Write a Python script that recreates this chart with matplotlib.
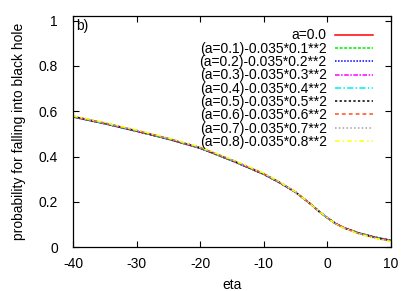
import matplotlib
matplotlib.use("Agg")
import matplotlib.pyplot as plt

plt.rcParams['font.family'] = ['Liberation Sans', 'DejaVu Sans']
plt.rcParams['axes.unicode_minus'] = False

eta = [-40, -35, -30, -25, -20, -15, -10, -7.5, -5, -2.5, -1.25, 0, 1.25, 2.5, 5, 7.5, 10]

s00 = [0.575, 0.545, 0.512, 0.477, 0.437, 0.382, 0.322, 0.285, 0.243, 0.188, 0.157, 0.130, 0.106, 0.088, 0.063, 0.045, 0.031]
s01 = [0.575, 0.545, 0.512, 0.477, 0.437, 0.382, 0.322, 0.285, 0.243, 0.188, 0.157, 0.130, 0.106, 0.088, 0.063, 0.045, 0.031]
s02 = [0.575, 0.545, 0.512, 0.477, 0.437, 0.382, 0.322, 0.285, 0.243, 0.188, 0.157, 0.130, 0.106, 0.088, 0.063, 0.045, 0.030]
s03 = [0.576, 0.546, 0.513, 0.478, 0.438, 0.383, 0.323, 0.285, 0.243, 0.188, 0.157, 0.130, 0.106, 0.088, 0.062, 0.044, 0.030]
s04 = [0.576, 0.546, 0.513, 0.478, 0.438, 0.383, 0.323, 0.286, 0.243, 0.188, 0.157, 0.130, 0.106, 0.087, 0.062, 0.044, 0.029]
s05 = [0.577, 0.547, 0.514, 0.479, 0.439, 0.384, 0.324, 0.286, 0.243, 0.188, 0.157, 0.130, 0.106, 0.087, 0.061, 0.043, 0.029]
s06 = [0.578, 0.548, 0.515, 0.480, 0.440, 0.385, 0.325, 0.287, 0.244, 0.188, 0.157, 0.130, 0.105, 0.087, 0.061, 0.042, 0.028]
s07 = [0.579, 0.549, 0.516, 0.481, 0.441, 0.386, 0.326, 0.287, 0.244, 0.188, 0.157, 0.130, 0.105, 0.086, 0.060, 0.041, 0.026]
s08 = [0.580, 0.550, 0.517, 0.482, 0.442, 0.387, 0.327, 0.288, 0.244, 0.188, 0.157, 0.130, 0.105, 0.086, 0.059, 0.040, 0.025]

series = [s00, s01, s02, s03, s04, s05, s06, s07, s08]
labels = ["a=0.0",
          "(a=0.1)-0.035*0.1**2",
          "(a=0.2)-0.035*0.2**2",
          "(a=0.3)-0.035*0.3**2",
          "(a=0.4)-0.035*0.4**2",
          "(a=0.5)-0.035*0.5**2",
          "(a=0.6)-0.035*0.6**2",
          "(a=0.7)-0.035*0.7**2",
          "(a=0.8)-0.035*0.8**2"]
colors = ["#ff0000", "#00ee00", "#0000ff", "#ff00ff", "#00eeee",
          "#000000", "#ff5020", "#a0a0a0", "#ffff00"]
dashes = [None, (2, 1), (1, 1), (3, 1, 1, 1), (4, 1.5, 1, 1.5),
          (1.5, 1.5), (2.5, 2), (1, 1.5), (3, 2, 1, 2)]

fs = 10

fig = plt.figure(figsize=(4.15, 2.91), dpi=100)
ax = fig.add_axes([0.176, 0.150, 0.766, 0.795])

for y, lab, c, d in zip(series, labels, colors, dashes):
    line, = ax.plot(eta, y, color=c, lw=1.1, label=lab)
    if d is not None:
        line.set_dashes(d)

ax.set_xlim(-40, 10)
ax.set_ylim(0, 1.02)
ax.set_xticks([-40, -30, -20, -10, 0, 10])
ax.set_xticklabels(["-40", "-30", "-20", "-10", "0", "10"])
ax.set_yticks([0, 0.2, 0.4, 0.6, 0.8, 1])
ax.set_yticklabels(["0", "0.2", "0.4", "0.6", "0.8", "1"])
ax.tick_params(direction='in', top=True, right=True, length=4, width=0.8,
               labelsize=fs)
ax.tick_params(axis='y', pad=11)
ax.tick_params(axis='x', pad=7)
for sp in ax.spines.values():
    sp.set_linewidth(0.9)

ax.set_xlabel("eta", fontsize=fs, labelpad=5)
ax.set_ylabel("probability for falling into black hole", fontsize=fs, labelpad=9)
ax.text(0.009, 0.985, "b)", transform=ax.transAxes, fontsize=fs, va='top', ha='left')

leg = ax.legend(loc='upper right', bbox_to_anchor=(0.943, 0.946), frameon=False,
                markerfirst=False, fontsize=fs, handlelength=2.73,
                labelspacing=-0.05, handletextpad=0.58, borderaxespad=0,
                borderpad=0)
for t in leg.get_texts():
    t.set_ha('right')

fig.savefig("out.png", dpi=100)
